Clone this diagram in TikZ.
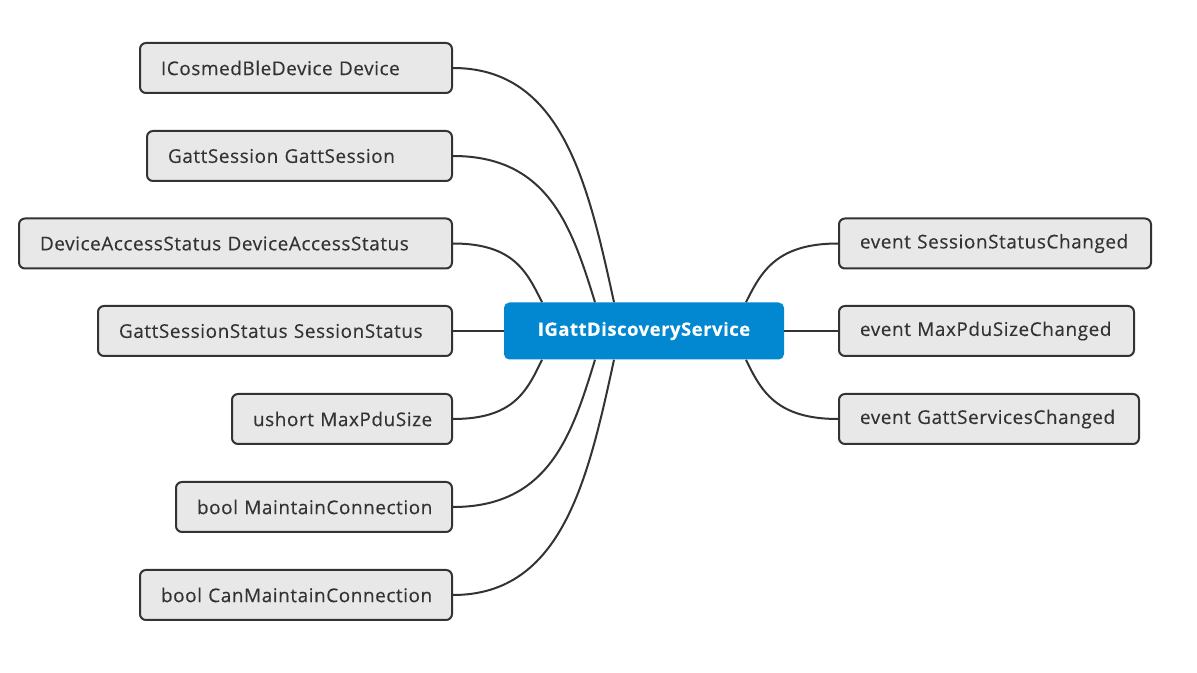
\documentclass[tikz,border=0pt]{standalone}
\usepackage{fontspec}
\setmainfont{Open Sans}[LetterSpace=3, FakeBold=0.3]
\usetikzlibrary{calc}
\definecolor{boxfill}{HTML}{E8E8E8}
\definecolor{ink}{HTML}{333333}
\definecolor{mainblue}{HTML}{0288D1}
\tikzset{
  leaf/.style={draw=ink, line width=1.5pt, fill=boxfill, rounded corners=4.5pt,
    anchor=west, minimum height=37.5pt, inner xsep=15.75pt, inner ysep=0pt,
    align=left, text=ink, font=\fontsize{14.2}{16}\selectfont},
  hub/.style={fill=mainblue, rounded corners=4pt, minimum width=210pt,
    minimum height=42.75pt, text=white, font=\bfseries\fontsize{13.8}{16}\selectfont},
  link/.style={draw=ink, line width=1.5pt}
}
\begin{document}
\begin{tikzpicture}[x=0.75pt, y=-0.75pt]
\useasboundingbox[fill=white] (0,0) rectangle (1197,673);

\node[hub] (c) at (644,331) {IGattDiscoveryService};

\node[leaf, text width=202.5pt] (l1) at (139,68)    {ICosmedBleDevice Device};
\node[leaf, text width=197.25pt] (l2) at (146,156)  {GattSession GattSession};
\node[leaf, text width=293.25pt] (l3) at (18,243.5) {DeviceAccessStatus DeviceAccessStatus};
\node[leaf, text width=234pt] (l4) at (97,331)      {GattSessionStatus SessionStatus};
\node[leaf, text width=133.5pt] (l5) at (231,419)   {ushort MaxPduSize};
\node[leaf, text width=175.5pt] (l6) at (175,507)   {bool MaintainConnection};
\node[leaf, text width=202.5pt] (l7) at (139,595)   {bool CanMaintainConnection};

\node[leaf, text width=202.5pt] (r1) at (838,243.5) {event SessionStatusChanged};
\node[leaf, text width=189.75pt] (r2) at (838,331)  {event MaxPduSizeChanged};
\node[leaf, text width=193.5pt] (r3) at (838,419)   {event GattServicesChanged};

\coordinate (t1) at ($(c.north)+(-30,0)$);
\coordinate (t2) at ($(c.north)+(-49,0)$);
\coordinate (t3) at ($(c.north)+(-102,0)$);
\coordinate (b1) at ($(c.south)+(-30,0)$);
\coordinate (b2) at ($(c.south)+(-49,0)$);
\coordinate (b3) at ($(c.south)+(-102,0)$);
\coordinate (tr) at ($(c.north)+(102,0)$);
\coordinate (br) at ($(c.south)+(102,0)$);

\draw[link] (l1.east) .. controls +(109,0) and +(-26,-119) .. (t1);
\draw[link] (l2.east) .. controls +(96,0) and +(-23,-74) .. (t2);
\draw[link] (l3.east) .. controls +(61,0) and +(-15,-30) .. (t3);
\draw[link] (l4.east) -- (c.west);
\draw[link] (l5.east) .. controls +(61,0) and +(-15,31) .. (b3);
\draw[link] (l6.east) .. controls +(96,0) and +(-23,75) .. (b2);
\draw[link] (l7.east) .. controls +(109,0) and +(-26,120) .. (b1);

\draw[link] (r1.west) .. controls +(-62,0) and +(15,-30) .. (tr);
\draw[link] (c.east) -- (r2.west);
\draw[link] (r3.west) .. controls +(-62,0) and +(15,31) .. (br);
\end{tikzpicture}
\end{document}
